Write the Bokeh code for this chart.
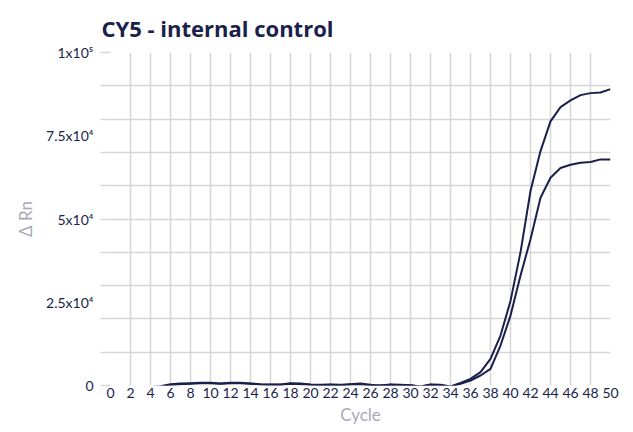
from bokeh.plotting import figure
from bokeh.models import FixedTicker, Range1d
from bokeh.embed import file_html
from bokeh.resources import INLINE

cycles = list(range(1, 51))
upper = [-800, -700, -600, -500, -200, 400, 600, 700, 800, 800,
         600, 800, 800, 600, 400, 300, 300, 700, 600, 300,
         200, 300, 200, 400, 600, 200, -100, 300, 200, 100,
         -300, 300, 200, -300, 800, 2000, 4000, 8000, 15000, 25400,
         40000, 58400, 70400, 79300, 83600, 85600, 87200, 87800, 88000, 89000]
lower = [-900, -800, -700, -600, -400, 100, 400, 500, 700, 700,
         500, 700, 700, 500, 300, 200, 200, 500, 400, 200,
         100, 200, 100, 300, 400, -100, 100, 200, 100, 50,
         -400, 200, 100, -400, 500, 1500, 3000, 5000, 12000, 21000,
         33000, 43900, 56400, 62400, 65300, 66300, 66900, 67100, 67900, 67900]

x_ticks = list(range(0, 51, 2))
y_label_ticks = [0, 25000, 50000, 75000, 100000]
y_label_text = {0: "0", 25000: "2.5x10\u2074", 50000: "5x10\u2074",
                75000: "7.5x10\u2074", 100000: "1x10\u2075"}
y_grid_ticks = list(range(0, 100001, 10000))
title_text = "CY5 - internal control"

NAVY = "#1b1f4b"
GRID = "#d6d6d6"
LABEL_GREY = "#a9a9b6"

p = figure(frame_width=500, frame_height=333, output_backend="svg", toolbar_location=None,
           x_range=Range1d(0, 50), y_range=Range1d(0, 100000),
           min_border_left=110, min_border_right=23, min_border_top=52,
           min_border_bottom=45)
p.outline_line_color = None
p.background_fill_color = "white"
p.border_fill_color = "white"

p.title.text = title_text
p.title.text_font = "Open Sans"
p.title.text_font_style = "bold"
p.title.text_font_size = "22px"
p.title.text_color = NAVY
p.title.align = "left"
p.title.offset = -9
p.title.standoff = 20

# grids
p.xgrid.ticker = FixedTicker(ticks=x_ticks)
p.ygrid.ticker = FixedTicker(ticks=y_grid_ticks[:-1])
for g in (p.xgrid, p.ygrid):
    g.grid_line_color = GRID
    g.grid_line_width = 1.5

# x axis
xa = p.xaxis[0]
xa.ticker = FixedTicker(ticks=x_ticks)
xa.axis_line_color = None
xa.major_tick_line_color = None
xa.minor_tick_line_color = None
xa.major_tick_out = 0
xa.major_tick_in = 0
xa.major_label_standoff = 2
xa.major_label_text_font = "Lato"
xa.major_label_text_font_size = "14px"
xa.major_label_text_color = NAVY
xa.axis_label = "Cycle"
xa.axis_label_text_font = "Lato"
xa.axis_label_text_font_style = "normal"
xa.axis_label_text_font_size = "17px"
xa.axis_label_text_color = LABEL_GREY
xa.axis_label_standoff = 3

# y axis
ya = p.yaxis[0]
ya.ticker = FixedTicker(ticks=y_label_ticks, minor_ticks=y_grid_ticks)
ya.major_label_overrides = y_label_text
ya.axis_line_color = None
ya.major_tick_line_color = None
ya.minor_tick_line_color = GRID
ya.minor_tick_line_width = 1.5
ya.minor_tick_out = 10
ya.minor_tick_in = 0
ya.major_tick_out = 10
ya.major_tick_in = 0
ya.major_label_standoff = 7
ya.major_label_text_font = "Lato"
ya.major_label_text_font_size = "14px"
ya.major_label_text_color = NAVY
ya.axis_label = "\u0394 Rn"
ya.axis_label_text_font = "Lato"
ya.axis_label_text_font_style = "normal"
ya.axis_label_text_font_size = "17px"
ya.axis_label_text_color = LABEL_GREY
ya.axis_label_standoff = 7

p.line(cycles, upper, line_color=NAVY, line_width=2)
p.line(cycles, lower, line_color=NAVY, line_width=2)

open("out.html", "w").write(file_html(p, INLINE))
